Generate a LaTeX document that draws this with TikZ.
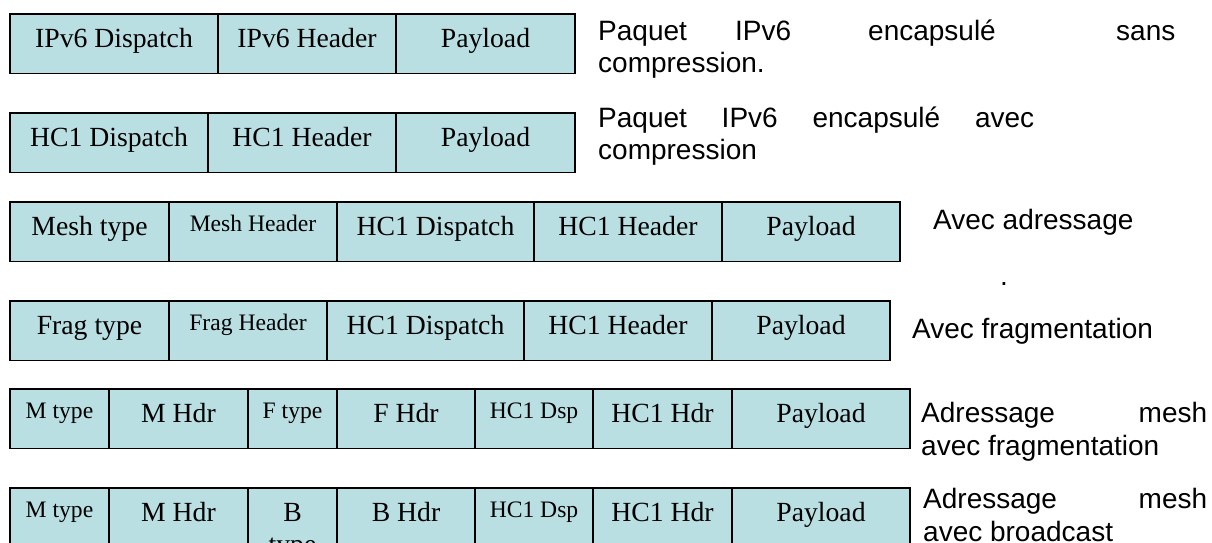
\documentclass[tikz,border=0pt]{standalone}
\usepackage{fontspec}
\setmainfont{Liberation Serif}
\newfontfamily\notefont{Liberation Sans}
\usepackage{tikz}
\usepackage{xcolor}
\definecolor{cellfill}{RGB}{185,223,227}

\begin{document}
\begin{tikzpicture}[x=1pt, y=-1pt,
  cell/.style={draw=black, line width=1.4pt, fill=cellfill, anchor=north west,
    inner sep=0pt, outer sep=0pt, minimum height=59.5pt,
    font=\fontsize{27.7}{32}\selectfont, text height=15pt, text depth=8pt},
  smallcell/.style={cell, font=\fontsize{23.6}{28}\selectfont, text height=7pt},
  note/.style={anchor=base west, inner sep=0pt, font=\notefont\fontsize{28}{33}\selectfont}]
\useasboundingbox (0,0) rectangle (1212,543);
\clip (0,0) rectangle (1212,543);

% uncompressed IPv6
\node[cell, minimum width=208pt] (r1a) at (10,14) {IPv6 Dispatch};
\node[cell, minimum width=178pt] (r1b) at (r1a.north east) {IPv6 Header};
\node[cell, minimum width=179pt] (r1c) at (r1b.north east) {Payload};

% HC1 compressed
\node[cell, minimum width=198pt] (r2a) at (10,113) {HC1 Dispatch};
\node[cell, minimum width=188pt] (r2b) at (r2a.north east) {HC1 Header};
\node[cell, minimum width=179pt] (r2c) at (r2b.north east) {Payload};

% mesh addressing
\node[cell, minimum width=159pt] (r3a) at (10,202) {Mesh type};
\node[smallcell, minimum width=168pt] (r3b) at (r3a.north east) {Mesh Header};
\node[cell, minimum width=197pt] (r3c) at (r3b.north east) {HC1 Dispatch};
\node[cell, minimum width=188pt] (r3d) at (r3c.north east) {HC1 Header};
\node[cell, minimum width=178pt] (r3e) at (r3d.north east) {Payload};

% fragmentation
\node[cell, minimum width=159pt] (r4a) at (10,301) {Frag type};
\node[smallcell, minimum width=158pt] (r4b) at (r4a.north east) {Frag Header};
\node[cell, minimum width=197pt] (r4c) at (r4b.north east) {HC1 Dispatch};
\node[cell, minimum width=188pt] (r4d) at (r4c.north east) {HC1 Header};
\node[cell, minimum width=178pt] (r4e) at (r4d.north east) {Payload};

% mesh + fragmentation
\node[smallcell, minimum width=99pt] (r5a) at (10,389) {M type};
\node[cell, minimum width=139pt] (r5b) at (r5a.north east) {M Hdr};
\node[smallcell, minimum width=89pt] (r5c) at (r5b.north east) {F type};
\node[cell, minimum width=138pt] (r5d) at (r5c.north east) {F Hdr};
\node[smallcell, minimum width=118pt] (r5e) at (r5d.north east) {HC1 Dsp};
\node[cell, minimum width=139pt] (r5f) at (r5e.north east) {HC1 Hdr};
\node[cell, minimum width=178pt] (r5g) at (r5f.north east) {Payload};

% mesh + broadcast
\node[smallcell, minimum width=99pt] (r6a) at (10,488) {M type};
\node[cell, minimum width=139pt] (r6b) at (r6a.north east) {M Hdr};
\node[cell, minimum width=89pt] (r6c) at (r6b.north east) {\begin{tabular}[t]{@{}c@{}}B\\type\end{tabular}};
\node[cell, minimum width=138pt] (r6d) at (r6c.north east) {B Hdr};
\node[smallcell, minimum width=118pt] (r6e) at (r6d.north east) {HC1 Dsp};
\node[cell, minimum width=139pt] (r6f) at (r6e.north east) {HC1 Hdr};
\node[cell, minimum width=178pt] (r6g) at (r6f.north east) {Payload};

% captions
\node[note] (n1a) at (598,41) {\rlap{Paquet}\hspace*{137pt}\rlap{IPv6}\hspace*{133pt}\rlap{encapsulé}\hspace*{248pt}sans};
\node[note] (n1b) at (598,73) {compression.};
\node[note] (n2a) at (598,127) {\makebox[436pt][l]{Paquet\hfill IPv6\hfill encapsulé\hfill avec}};
\node[note] (n2b) at (598,159) {compression};
\node[note] (n3a) at (933,229) {Avec adressage};
\node[note] (n3b) at (1000,285) {.};
\node[note] (n4a) at (912,338) {Avec fragmentation};
\node[note] (n5a) at (921,422) {\makebox[286pt][l]{Adressage\hfill mesh}};
\node[note] (n5b) at (921,455) {avec fragmentation};
\node[note] (n6a) at (923,508) {\makebox[284pt][l]{Adressage\hfill mesh}};
\node[note] (n6b) at (923,541) {avec broadcast};
\end{tikzpicture}
\end{document}
